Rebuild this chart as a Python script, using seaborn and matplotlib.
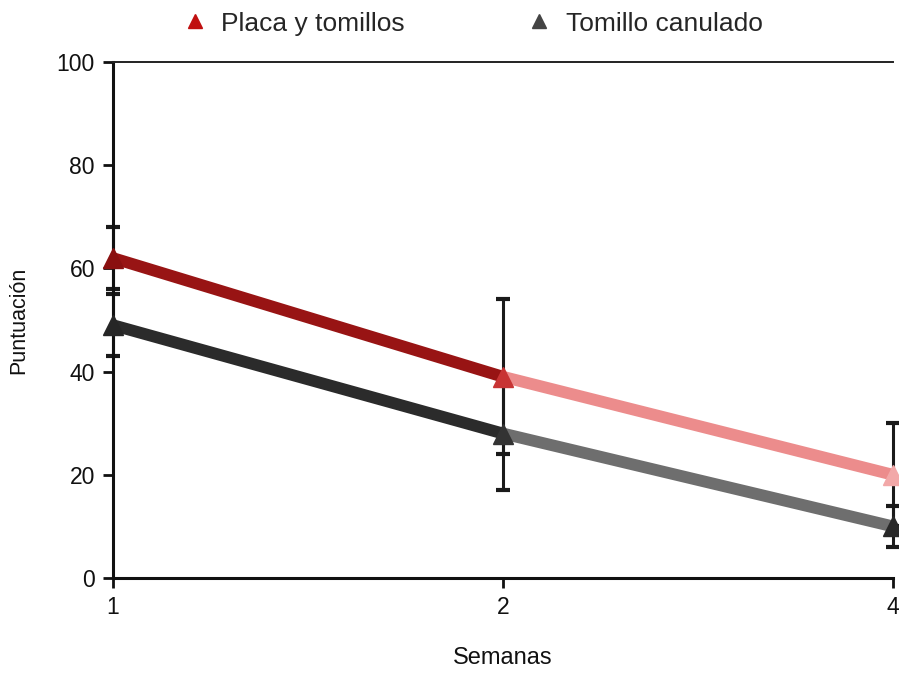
import matplotlib
matplotlib.use("Agg")
import matplotlib.pyplot as plt
from matplotlib.lines import Line2D
import seaborn as sns
import pandas as pd
import numpy as np

weeks = ["1", "2", "4"]
placa = [62, 39, 20]
placa_err = [6, 15, 10]
canulado = [49, 28, 10]
canulado_err = [6, 11, 4]
series_names = ["Placa y tomillos", "Tomillo canulado"]

sns.set_theme(style="white")
plt.rcParams["font.family"] = ["Liberation Sans", "DejaVu Sans"]

fig = plt.figure(figsize=(8.99, 6.92), dpi=100)
ax = fig.add_axes([0.1257, 0.1647, 0.8676, 0.7457])

pos = np.arange(len(weeks))
df = pd.DataFrame({"pos": pos, "placa": placa, "canulado": canulado})

# colours per segment (print fades to the right)
seg_cols = {
    "placa": ["#981414", "#ec8c8c"],
    "canulado": ["#2b2b2b", "#6e6e6e"],
}
mk_cols = {
    "placa": ["#8a1010", "#c83434", "#f2a8a8"],
    "canulado": ["#262626", "#333333", "#282828"],
}

for col, errs in [("placa", placa_err), ("canulado", canulado_err)]:
    ax.errorbar(df["pos"], df[col], yerr=errs, fmt="none", ecolor="#1a1a1a",
                elinewidth=2.2, capsize=5, capthick=3, clip_on=False, zorder=2)

for col in ["placa", "canulado"]:
    for i in range(len(pos) - 1):
        seg = df.iloc[i:i + 2]
        sns.lineplot(data=seg, x="pos", y=col, ax=ax, color=seg_cols[col][i],
                     lw=8.5, solid_capstyle="butt", legend=False, zorder=3, clip_on=False)
    for i in range(len(pos)):
        ax.plot(df["pos"].iloc[i], df[col].iloc[i], marker="^", ms=14,
                color=mk_cols[col][i], ls="none", clip_on=False, zorder=4)

ax.set_xlim(0, 2)
ax.set_ylim(0, 100)
ax.set_xticks(pos)
ax.set_xticklabels(weeks)
ax.set_yticks([0, 20, 40, 60, 80, 100])

for s in ["left", "bottom"]:
    ax.spines[s].set_visible(True)
    ax.spines[s].set_color("#111111")
    ax.spines[s].set_linewidth(2.2)
ax.spines["top"].set_visible(True)
ax.spines["top"].set_color("#222222")
ax.spines["top"].set_linewidth(1.4)
ax.spines["right"].set_visible(False)

ax.tick_params(axis="both", direction="out", length=7, width=2, color="#111111",
               labelsize=16.5, labelcolor="#111111", pad=6, left=True, bottom=True)

ax.set_xlabel("Semanas", fontsize=17, color="#111111", labelpad=20)
ax.set_ylabel("Puntuación", fontsize=15.5, color="#111111", labelpad=20)

handles = [
    Line2D([0], [0], color="#c01010", marker="^", ms=10, lw=0),
    Line2D([0], [0], color="#444444", marker="^", ms=10, lw=0),
]
fig.legend(handles, series_names, loc="center", bbox_to_anchor=(0.525, 0.966),
           ncol=2, frameon=False, fontsize=19, handlelength=1.0, handletextpad=0.5,
           columnspacing=4.6)

fig.savefig("out.png", dpi=100, facecolor="white")
